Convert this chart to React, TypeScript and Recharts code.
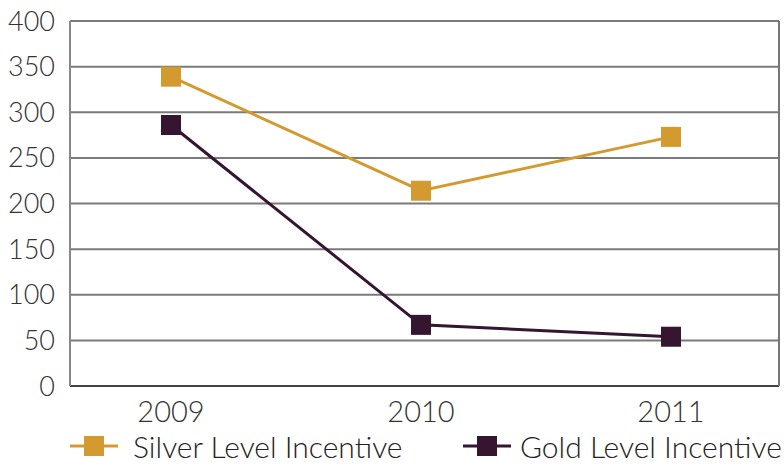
import React from 'react';
import { LineChart, Line, XAxis, YAxis, CartesianGrid, Legend } from 'recharts';

const years = ['2009', '2010', '2011'];
const silverValues = [339, 214, 273];
const goldValues = [286, 67, 54];
const yTicks = [0, 50, 100, 150, 200, 250, 300, 350, 400];

const SILVER = '#D39A30';
const GOLD = '#35152F';
const FONT = 'Lato, "Open Sans", sans-serif';

const data = years.map((year, i) => ({
  year,
  silver: silverValues[i],
  gold: goldValues[i],
}));

const seriesInfo = [
  { key: 'silver', name: 'Silver Level Incentive', color: SILVER, left: 70, gap: 15 },
  { key: 'gold', name: 'Gold Level Incentive', color: GOLD, left: 463, gap: 9 },
];

// square marker used for every point
const squareDot = (color: string) => (props: any) => {
  const { cx, cy, index } = props;
  return <rect key={index} x={cx - 10} y={cy - 10} width={20} height={20} fill={color} />;
};

const renderLegend = () => (
  <div style={{ position: 'relative', height: 40, width: 784 }}>
    {seriesInfo.map((s) => (
      <div
        key={s.key}
        style={{ position: 'absolute', left: s.left, top: 0, display: 'flex', alignItems: 'center', height: 40 }}
      >
        <svg width={48} height={20} style={{ display: 'block' }}>
          <line x1={0} y1={10} x2={48} y2={10} stroke={s.color} strokeWidth={3} />
          <rect x={14} y={0} width={20} height={20} fill={s.color} />
        </svg>
        <span
          style={{
            marginLeft: s.gap,
            fontFamily: FONT,
            fontSize: 30,
            fontWeight: 300,
            color: '#222',
            whiteSpace: 'nowrap',
          }}
        >
          {s.name}
        </span>
      </div>
    ))}
  </div>
);

export default function App() {
  return (
    <div>
      <style>{'body{margin:0;background:#fff}'}</style>
      <LineChart width={784} height={466} data={data} margin={{ top: 21, right: 0, bottom: 0, left: 0 }}>
        <CartesianGrid vertical={false} stroke="#7a7a7a" strokeWidth={2} />
        <XAxis
          dataKey="year"
          scale="point"
          padding={{ left: 101, right: 108 }}
          tickLine={false}
          tickMargin={9}
          height={40}
          axisLine={{ stroke: '#444', strokeWidth: 2 }}
          tick={{ fontFamily: FONT, fontSize: 29, fontWeight: 300, fill: '#333' }}
        />
        <YAxis
          domain={[0, 400]}
          ticks={yTicks}
          width={70}
          tickLine={false}
          tickMargin={9}
          axisLine={{ stroke: '#888', strokeWidth: 2 }}
          tick={{ fontFamily: FONT, fontSize: 27, fontWeight: 300, fill: '#333' }}
        />
        <YAxis
          yAxisId="frame"
          orientation="right"
          width={5}
          tick={false}
          tickLine={false}
          axisLine={{ stroke: '#777', strokeWidth: 2 }}
        />
        <Legend verticalAlign="bottom" height={40} content={renderLegend} />
        <Line
          dataKey="silver"
          name="Silver Level Incentive"
          stroke={SILVER}
          strokeWidth={3}
          dot={squareDot(SILVER)}
          activeDot={false}
          isAnimationActive={false}
        />
        <Line
          dataKey="gold"
          name="Gold Level Incentive"
          stroke={GOLD}
          strokeWidth={3}
          dot={squareDot(GOLD)}
          activeDot={false}
          isAnimationActive={false}
        />
      </LineChart>
    </div>
  );
}
